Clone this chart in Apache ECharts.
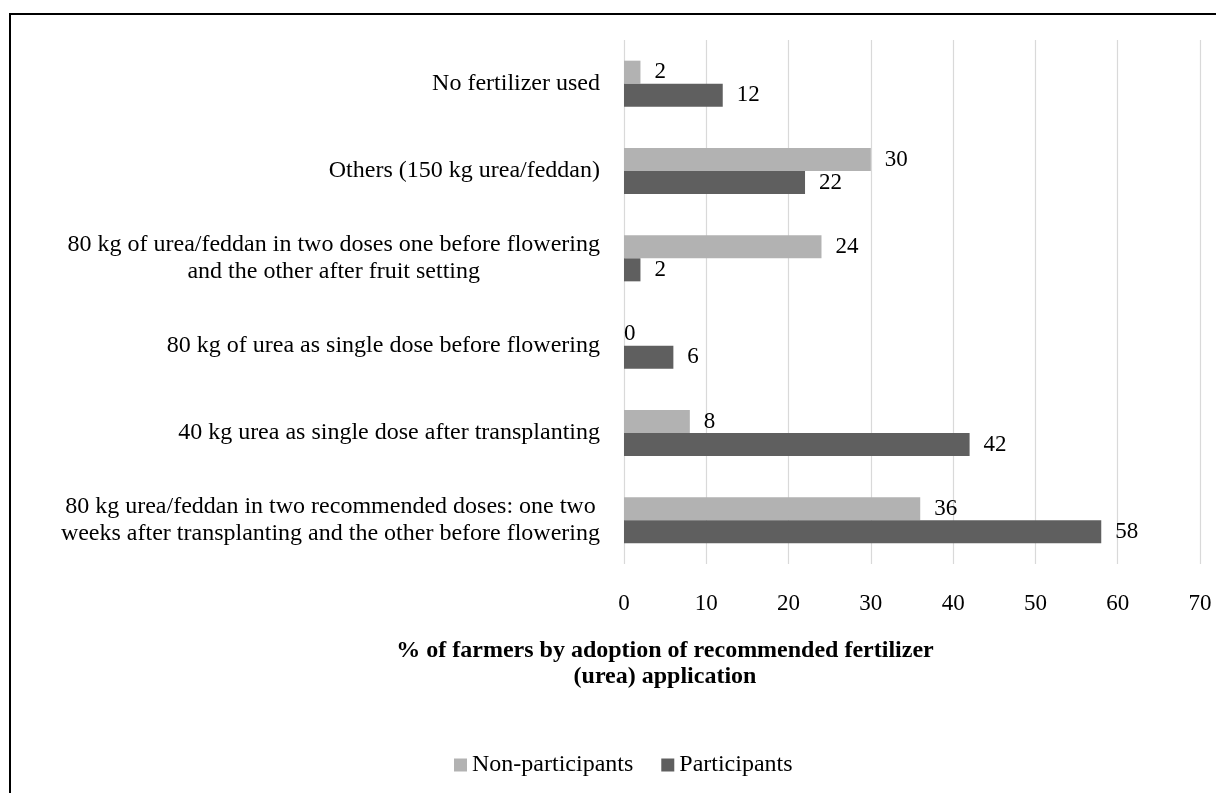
<!DOCTYPE html>
<html>
<head>
<meta charset="utf-8">
<script src="https://cdn.jsdelivr.net/npm/echarts@6/dist/echarts.min.js"></script>
<style>
  html, body { margin: 0; padding: 0; background: #fff; }
  #chart { width: 1216px; height: 793px; }
</style>
</head>
<body>
<div id="chart"></div>
<script>
// Fertilizer practice categories, listed bottom to top on the y axis
const categories = [
  '80 kg urea/feddan in two recommended doses: one two\nweeks after transplanting and the other before flowering',
  '40 kg urea as single dose after transplanting',
  '80 kg of urea as single dose before flowering',
  '80 kg of urea/feddan in two doses one before flowering\nand the other after fruit setting',
  'Others (150 kg urea/feddan)',
  'No fertilizer used'
];
const nonParticipants = [36, 8, 0, 24, 30, 2];
const participants = [58, 42, 6, 2, 22, 12];
const seriesNames = ['Non-participants', 'Participants'];
const xTicks = { min: 0, max: 70, interval: 10 };
const axisTitle = '% of farmers by adoption of recommended fertilizer\n(urea) application';

const FONT = '"Liberation Serif", "Times New Roman", serif';
const LIGHT = '#b2b2b2';
const DARK = '#5f5f5f';

const chart = echarts.init(document.getElementById('chart'), null, { renderer: 'canvas' });

const valueLabel = {
  show: true,
  position: 'right',
  distance: 14,
  color: '#000',
  fontFamily: FONT,
  fontSize: 23
};

// zero-length bars keep their label tucked against the axis
function barData(values) {
  return values.map(function (v) {
    return v === 0 ? { value: v, label: { distance: 0 } } : v;
  });
}

chart.setOption({
  animation: false,
  backgroundColor: '#fff',
  textStyle: { fontFamily: FONT, color: '#000' },
  grid: { left: 624, right: 16, top: 40, bottom: 229, containLabel: false },
  legend: {
    data: seriesNames,
    bottom: 16,
    left: 454,
    padding: 0,
    itemWidth: 13,
    itemHeight: 13,
    itemGap: 28,
    icon: 'rect',
    textStyle: { fontFamily: FONT, fontSize: 24, color: '#000' }
  },
  xAxis: {
    type: 'value',
    min: xTicks.min,
    max: xTicks.max,
    interval: xTicks.interval,
    axisLine: { show: false },
    axisTick: { show: false },
    splitLine: { show: true, lineStyle: { color: '#d9d9d9', width: 1.2 } },
    axisLabel: { margin: 28, color: '#000', fontFamily: FONT, fontSize: 23 }
  },
  yAxis: {
    type: 'category',
    data: categories,
    axisLine: { show: false },
    axisTick: { show: false },
    axisLabel: {
      margin: 24,
      align: 'right',
      color: '#000',
      fontFamily: FONT,
      fontSize: 24,
      lineHeight: 27,
      formatter: function (v) {
        return v.split('\n').map(function (l) { return '{c|' + l + '}'; }).join('\n');
      },
      rich: {
        c: { align: 'center', fontFamily: FONT, fontSize: 24, lineHeight: 27, color: '#000' }
      }
    }
  },
  series: [
    {
      name: seriesNames[0],
      type: 'bar',
      data: barData(nonParticipants),
      barWidth: 23,
      barGap: '0%',
      itemStyle: { color: LIGHT },
      label: valueLabel
    },
    {
      name: seriesNames[1],
      type: 'bar',
      data: barData(participants),
      barWidth: 23,
      barGap: '0%',
      itemStyle: { color: DARK },
      label: valueLabel
    }
  ],
  graphic: [
    {
      type: 'rect',
      shape: { x: 10, y: 14, width: 1260, height: 860 },
      style: { fill: 'none', stroke: '#000', lineWidth: 2 },
      silent: true
    },
    {
      type: 'text',
      x: 665,
      y: 638,
      style: {
        text: axisTitle,
        fill: '#000',
        font: 'bold 24px ' + FONT,
        textAlign: 'center',
        lineHeight: 26
      },
      silent: true
    }
  ]
});
</script>
</body>
</html>
